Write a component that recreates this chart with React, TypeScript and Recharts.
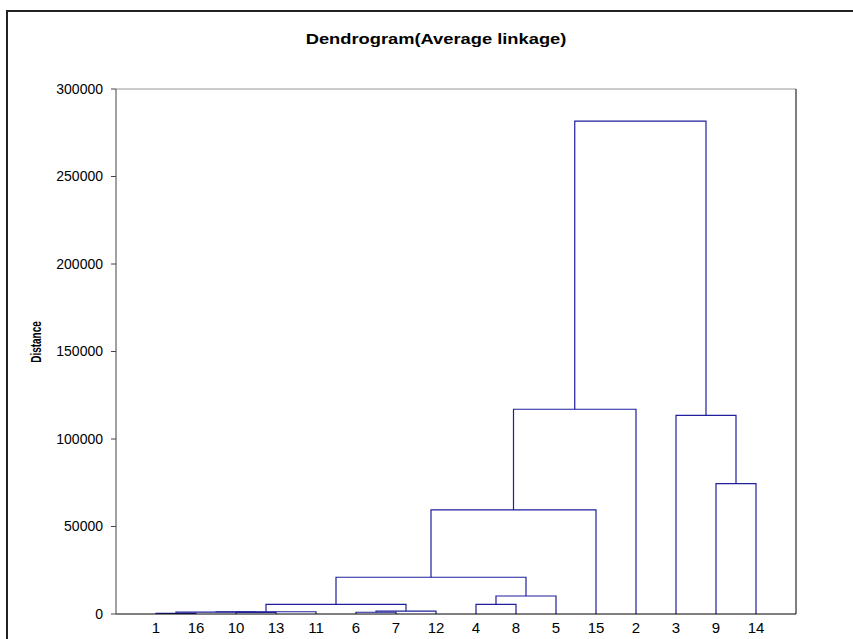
import React from 'react';
import { LineChart, Line, XAxis, YAxis, ReferenceLine } from 'recharts';

// leaf order along the x axis
const leafLabels = ['1', '16', '10', '13', '11', '6', '7', '12', '4', '8', '5', '15', '2', '3', '9', '14'];

// merges: children are leaf labels or "c<i>" for the i-th merge
const mergeLeft = ['1', '10', 'c0', 'c2', '6', 'c4', 'c3', '4', 'c7', 'c6', 'c9', 'c10', '9', '3', 'c11'];
const mergeRight = ['16', '13', 'c1', '11', '7', '12', 'c5', '8', '5', 'c8', '15', '2', '14', 'c12', 'c13'];
const mergeHeight = [400, 900, 1100, 1300, 1000, 1700, 5500, 5500, 10300, 21000, 59500, 117000, 74500, 113500, 281700];

const yTicks = [0, 50000, 100000, 150000, 200000, 250000, 300000];
const xTicks = leafLabels.map((_, i) => i + 1);

const LINK_COLOR = '#1f1f9c';
const FONT = '"Liberation Sans", Arial, sans-serif';

// work out where each node sits and build one U-shaped link per merge
const buildLinks = () => {
  const pos: Record<string, { x: number; y: number }> = {};
  leafLabels.forEach((l, i) => {
    pos[l] = { x: i + 1, y: 0 };
  });
  return mergeHeight.map((h, i) => {
    const a = pos[mergeLeft[i]];
    const b = pos[mergeRight[i]];
    pos['c' + i] = { x: (a.x + b.x) / 2, y: h };
    return [
      { x: a.x, y: a.y },
      { x: a.x, y: h },
      { x: b.x, y: h },
      { x: b.x, y: b.y },
    ];
  });
};

const links = buildLinks();

export default function App() {
  return (
    <div style={{ position: 'absolute', left: 0, top: 0, width: 853, height: 639, overflow: 'hidden', background: '#fff', fontFamily: FONT }}>
      <div style={{ position: 'absolute', left: 6, top: 10, width: 900, height: 700, border: '2px solid #222', boxSizing: 'border-box' }} />
      <div style={{ position: 'absolute', left: 0, top: 0 }}>
        <LineChart width={853} height={639} margin={{ top: 89, right: 0, bottom: 0, left: 0 }}>
          <XAxis
            dataKey="x"
            type="number"
            domain={[0, 17]}
            ticks={xTicks}
            tickFormatter={(v: number) => leafLabels[v - 1]}
            tickLine={false}
            tickSize={6}
            tickMargin={2}
            height={25}
            interval={0}
            axisLine={{ stroke: '#000' }}
            tick={{ fontSize: 15, fill: '#000', fontFamily: FONT }}
            allowDuplicatedCategory={false}
          />
          <YAxis
            yAxisId="left"
            dataKey="y"
            type="number"
            domain={[0, 300000]}
            ticks={yTicks}
            width={116}
            tickSize={5}
            tickMargin={8}
            axisLine={{ stroke: '#444' }}
            tickLine={{ stroke: '#444' }}
            tick={{ fontSize: 14, fill: '#000', fontFamily: FONT }}
          />
          <YAxis
            yAxisId="right"
            orientation="right"
            type="number"
            domain={[0, 300000]}
            ticks={[0, 300000]}
            width={57}
            tickSize={5}
            tick={false}
            axisLine={{ stroke: '#000' }}
            tickLine={{ stroke: '#000' }}
          />
          <ReferenceLine yAxisId="left" y={300000} stroke="#999" />
          {links.map((d, i) => (
            <Line
              key={i}
              yAxisId="left"
              data={d}
              dataKey="y"
              type="linear"
              stroke={LINK_COLOR}
              strokeWidth={1.2}
              dot={false}
              activeDot={false}
              isAnimationActive={false}
            />
          ))}
        </LineChart>
      </div>
      <div style={{ position: 'absolute', left: 436, top: 38, transform: 'translate(-50%, -50%) scaleX(1.22)', whiteSpace: 'nowrap', fontWeight: 'bold', fontSize: 15 }}>
        Dendrogram(Average linkage)
      </div>
      <div style={{ position: 'absolute', left: 36, top: 342, transform: 'translate(-50%, -50%) rotate(-90deg) scaleY(1.4)', whiteSpace: 'nowrap', fontWeight: 'bold', fontSize: 10 }}>
        Distance
      </div>
    </div>
  );
}
